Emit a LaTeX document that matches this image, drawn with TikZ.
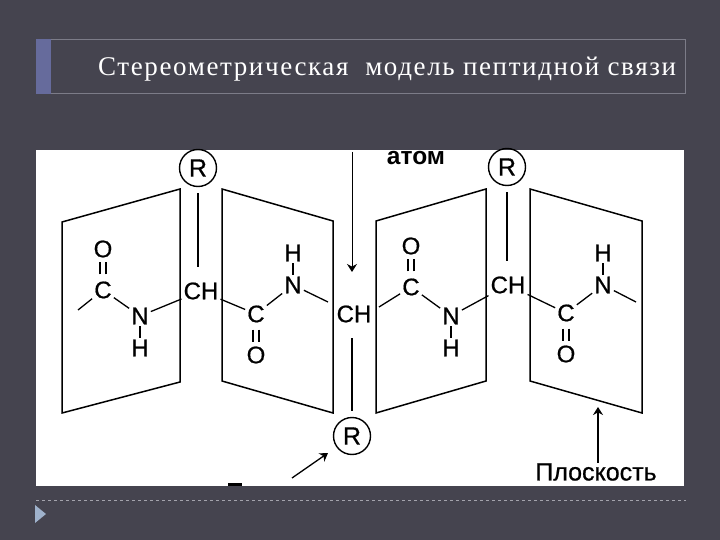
\documentclass[tikz,border=0pt]{standalone}
\usepackage{fontspec}
\setmainfont{Liberation Serif}
\newfontfamily\atomfont[FakeBold=0.7]{Liberation Sans}
\newfontfamily\labelfont{Liberation Sans}
\newfontfamily\titlefont[LetterSpace=6]{Liberation Serif}
\usepackage{tikz}
\usetikzlibrary{arrows.meta,positioning}
\definecolor{slidebg}{HTML}{45444F}
\definecolor{slideline}{HTML}{7C7C88}
\definecolor{slidebar}{HTML}{666B9C}
\definecolor{slidetip}{HTML}{9FB2CC}
\tikzset{
  atom/.style={inner sep=2pt,font=\atomfont\fontsize{24}{24}\selectfont},
  group/.style={circle,draw,line width=1.4pt,minimum size=37pt,inner sep=0pt,font=\atomfont\fontsize{25}{25}\selectfont},
  plane/.style={draw,line width=1.5pt,line join=miter},
  bond/.style={draw,line width=1.3pt},
  dbl/.style={draw,line width=1.1pt,shorten >=2pt,shorten <=5pt},
  stem/.style={draw,line width=1.4pt,shorten >=24pt,shorten <=6pt},
  pointer/.style={draw,line width=1.3pt,->}
}
\begin{document}
\begin{tikzpicture}[x=1pt,y=-1pt,>={Stealth[length=8pt,width=10pt]},node distance=32pt]
            \useasboundingbox (0,0) rectangle (720,540);
            \fill   [slidebg] (0,0) rectangle (720,540);

            % title bar
            \fill   [slidebar] (36,39) rectangle (51,94);
            \draw   [slideline] (51,39) -- (685,39) -- (685,93) -- (51,93);
            \node   [text=white,anchor=base west,inner sep=0pt] (title) at (98,76)
                    {\titlefont\fontsize{27}{27}\selectfont Стереометрическая\ \ модель пептидной связи};

            % picture area
            \fill   [white] (36,150) rectangle (684,486);
            \fill   [black] (228,483) rectangle (242,486);

            % planes
            \path   [plane] (62,222) -- (180,189) -- (180,382) -- (62,413) -- cycle;
            \path   [plane] (222,189) -- (333,221) -- (333,413) -- (222,381) -- cycle;
            \path   [plane] (376,221) -- (486,189) -- (486,381) -- (376,413) -- cycle;
            \path   [plane] (530,189) -- (642,221) -- (642,413) -- (530,381) -- cycle;

            % side groups
            \node   [group]                     (r1) at (198,168) {R};
            \node   [group]                     (r2) at (352,436) {R};
            \node   [group]                     (r3) at (507,167) {R};

            \node   [atom]                      (ch1) at (201,291) {CH};
            \node   [atom]                      (ch2) at (354,314) {CH};
            \node   [atom]                      (ch3) at (508,285) {CH};

            % first plane
            \node   [atom]                      (c1) at (103,290) {C};
            \node   [atom]  [above of=c1,node distance=41pt]    (o1) {O};
            \node   [atom]                      (n1) at (140,316) {N};
            \node   [atom]  [below of=n1]       (h1) {H};
            \coordinate                         (s1) at (78,310);

            % second plane
            \node   [atom]                      (c2) at (256,314) {C};
            \node   [atom]  [below of=c2,node distance=41pt]    (o2) {O};
            \node   [atom]                      (n2) at (293,285) {N};
            \node   [atom]  [above of=n2]       (h2) {H};
            \coordinate                         (s2) at (328,302);

            % third plane
            \node   [atom]                      (c3) at (411,287) {C};
            \node   [atom]  [above of=c3,node distance=41pt]    (o3) {O};
            \node   [atom]                      (n3) at (451,316) {N};
            \node   [atom]  [below of=n3]       (h3) {H};
            \coordinate                         (s3) at (379,307);

            % fourth plane
            \node   [atom]                      (c4) at (566,313) {C};
            \node   [atom]  [below of=c4,node distance=41pt]    (o4) {O};
            \node   [atom]                      (n4) at (603,285) {N};
            \node   [atom]  [above of=n4]       (h4) {H};
            \coordinate                         (s4) at (636,302);

            \path   (s1) edge [bond] (c1)
            (c1) edge [bond] (n1)
            (n1) edge [bond] (ch1)
            (n1) edge [bond] (h1)
            ([xshift=-3pt]c1.north) edge [dbl] ([xshift=-3pt]o1.south)
            ([xshift=3pt]c1.north) edge [dbl] ([xshift=3pt]o1.south);

            \path   (ch1) edge [bond] (c2)
            (c2) edge [bond] (n2)
            (n2) edge [bond] (s2)
            (n2) edge [bond] (h2)
            ([xshift=-3pt]c2.south) edge [dbl] ([xshift=-3pt]o2.north)
            ([xshift=3pt]c2.south) edge [dbl] ([xshift=3pt]o2.north);

            \path   (s3) edge [bond] (c3)
            (c3) edge [bond] (n3)
            (n3) edge [bond] (ch3)
            (n3) edge [bond] (h3)
            ([xshift=-3pt]c3.north) edge [dbl] ([xshift=-3pt]o3.south)
            ([xshift=3pt]c3.north) edge [dbl] ([xshift=3pt]o3.south);

            \path   (ch3) edge [bond] (c4)
            (c4) edge [bond] (n4)
            (n4) edge [bond] (s4)
            (n4) edge [bond] (h4)
            ([xshift=-3pt]c4.south) edge [dbl] ([xshift=-3pt]o4.north)
            ([xshift=3pt]c4.south) edge [dbl] ([xshift=3pt]o4.north);

            \path   (r1) edge [stem] (r1 |- ch1)
            (r3) edge [stem] (r3 |- ch3)
            (r2) edge [stem] (r2 |- ch2);

            % labels and pointers
            \node   [inner sep=0pt,font=\labelfont\bfseries\fontsize{24.5}{25}\selectfont] (atomlabel) at (416,158) {атом};
            \node   [inner sep=0pt,font=\atomfont\fontsize{25}{25}\selectfont]             (planelabel) at (596,472) {Плоскость};
            \coordinate (top) at (352,152);
            \coordinate (toptip) at (352,272);
            \coordinate (tail) at (292,478);
            \coordinate (tailtip) at (328,453);
            \coordinate (planetip) at (598,407);

            \path   (top) edge [pointer,line width=1pt] (toptip)
            (tail) edge [pointer] (tailtip)
            (planetip |- planelabel.north) edge [pointer] (planetip);

            % footer
            \draw   [slideline!70!white,dashed] (36,500) -- (686,500);
            \fill   [slidetip] (35,505) -- (46,514) -- (35,523) -- cycle;
        \end{tikzpicture}
\end{document}
